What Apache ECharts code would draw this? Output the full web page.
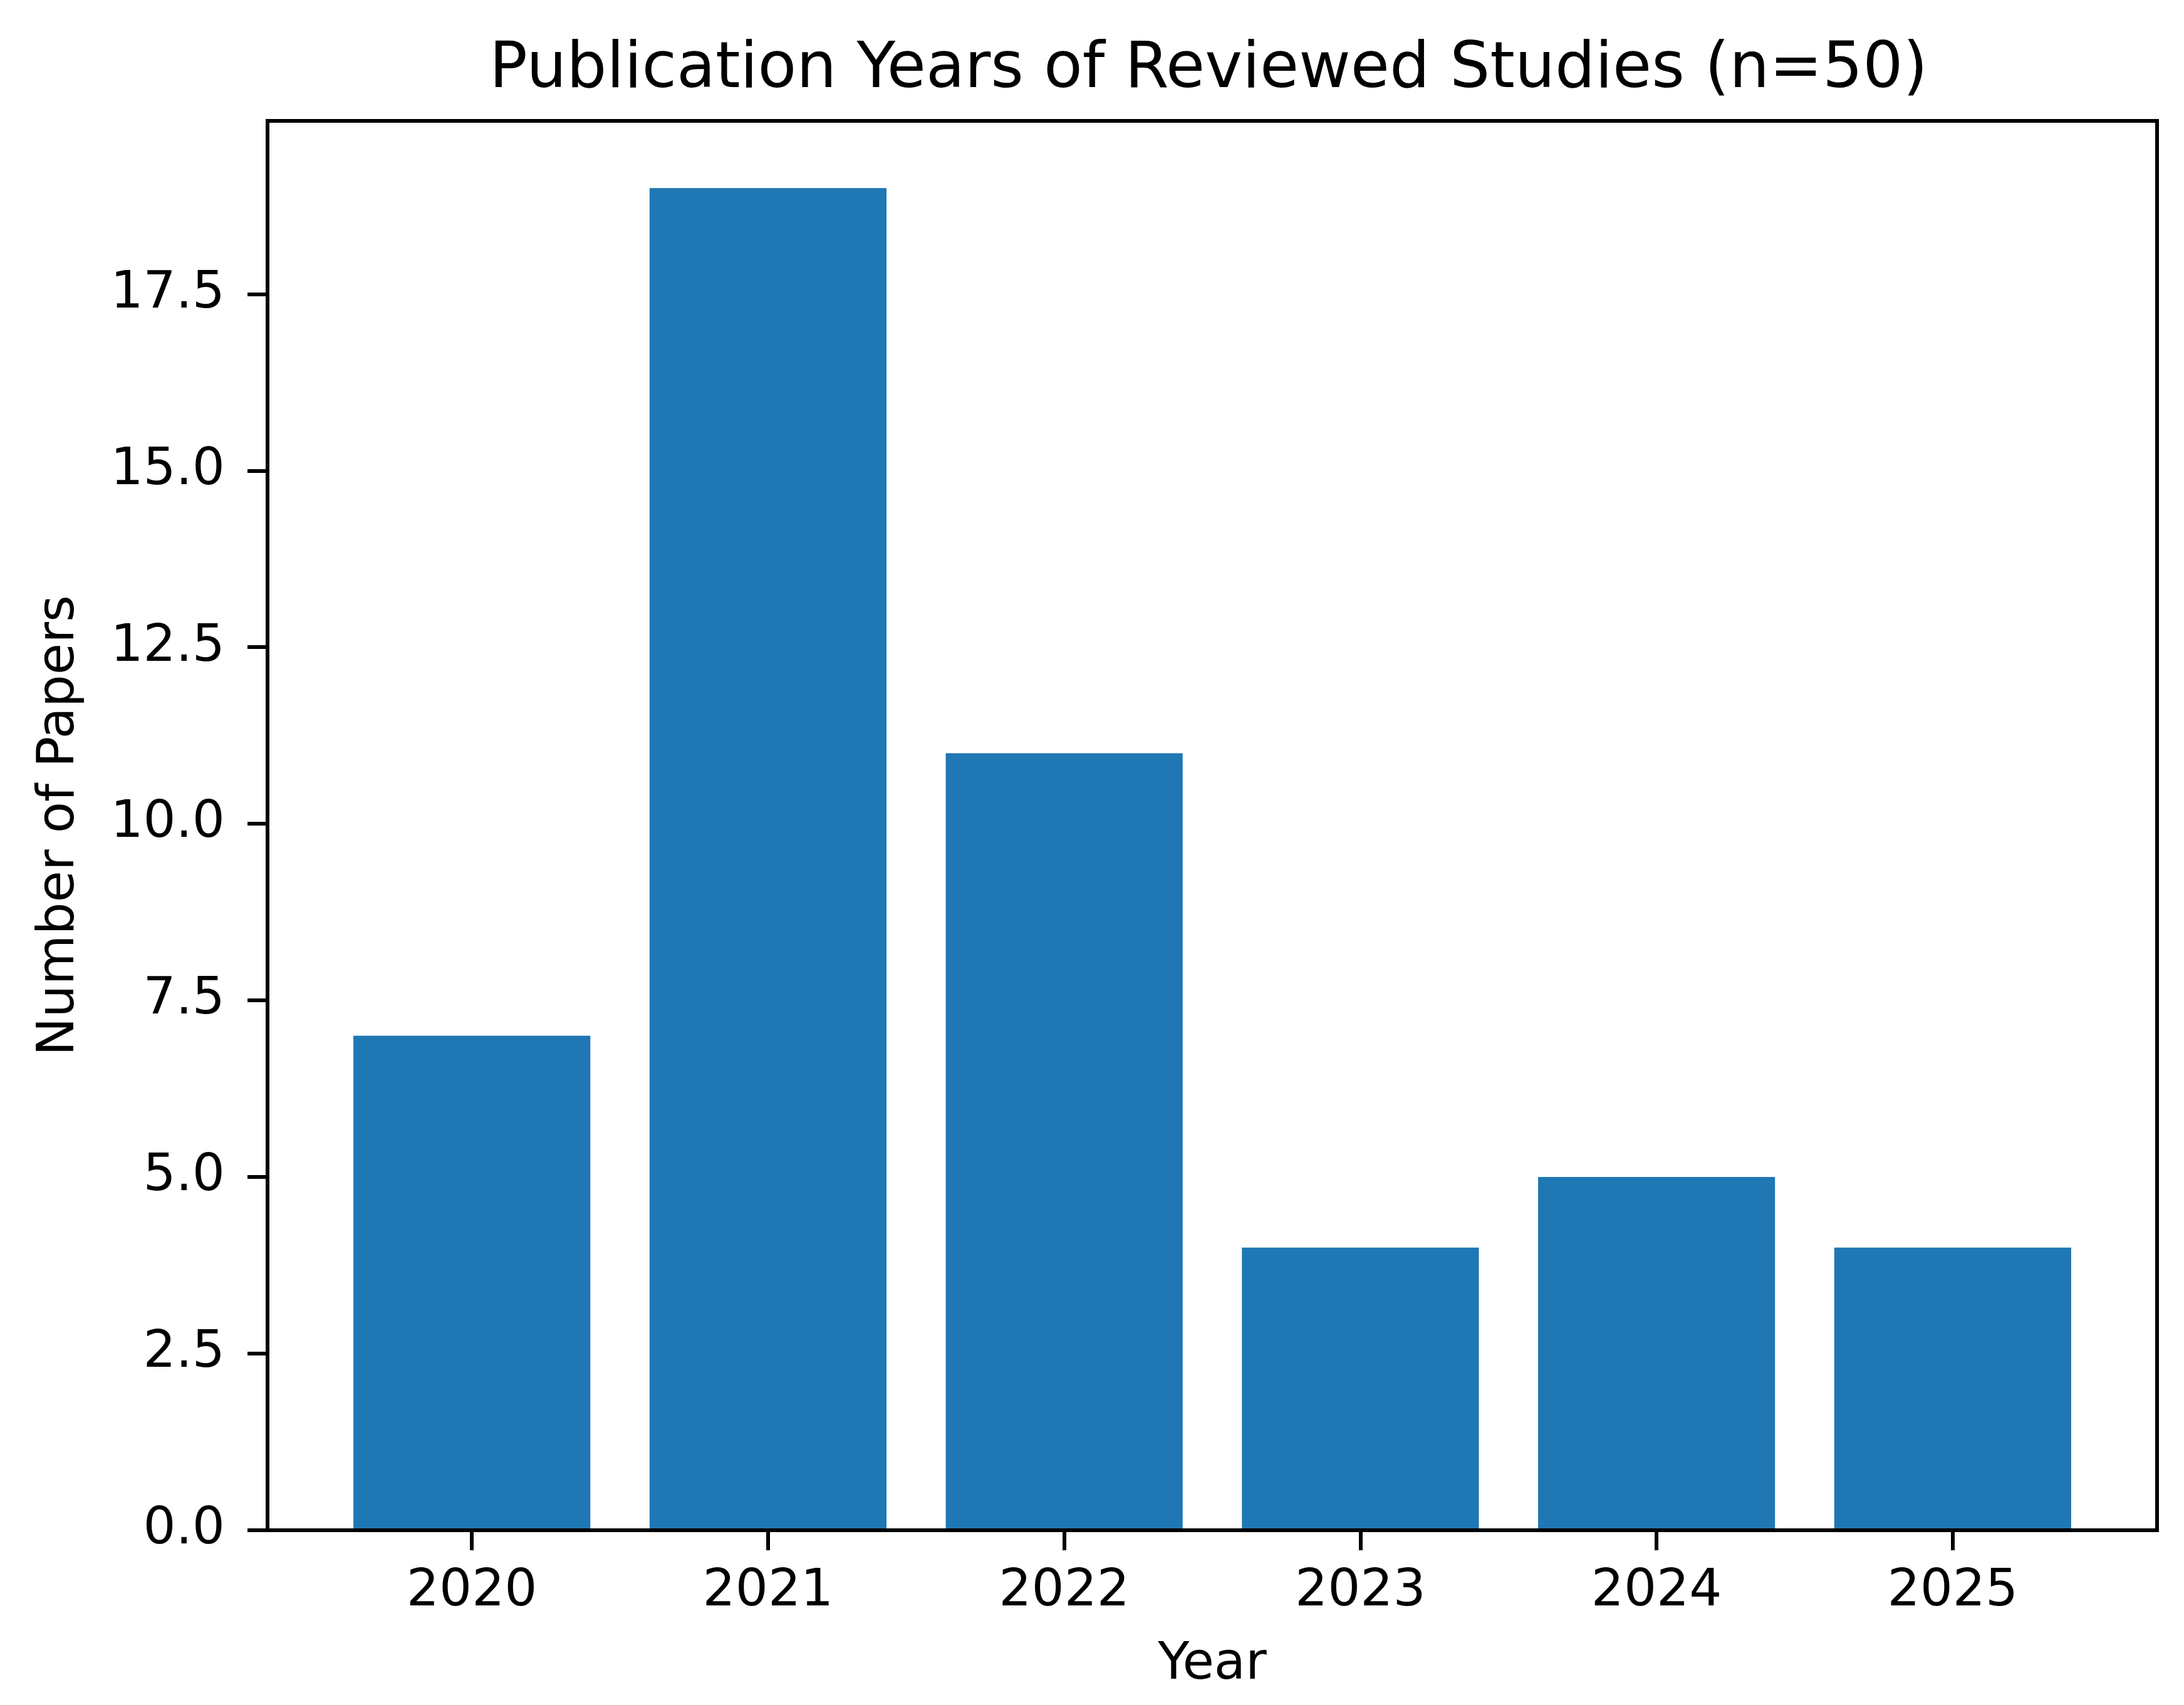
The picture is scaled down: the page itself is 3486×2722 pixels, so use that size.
<!DOCTYPE html>
<html>
<head>
<meta charset="utf-8">
<script src="https://cdn.jsdelivr.net/npm/echarts@6/dist/echarts.min.js"></script>
<style>
html,body{margin:0;padding:0;background:#fff;}
#chart{width:3486px;height:2722px;}
</style>
</head>
<body>
<div id="chart"></div>
<script>
// ---- data ----
const years = ['2020', '2021', '2022', '2023', '2024', '2025'];
const papers = [7, 19, 11, 4, 5, 4];
const yTicks = [0, 2.5, 5, 7.5, 10, 12.5, 15, 17.5];
const xTickPositions = [0, 1, 2, 3, 4, 5];
const titleText = 'Publication Years of Reviewed Studies (n=50)';
const xName = 'Year';
const yName = 'Number of Papers';

const FONT = 'DejaVu Sans';
const chart = echarts.init(document.getElementById('chart'), null, {renderer: 'canvas'});

const seriesData = papers.map((v, i) => [i, v]);

chart.setOption({
  backgroundColor: '#ffffff',
  animation: false,
  title: {
    text: titleText,
    left: 1924,
    top: 57,
    textAlign: 'center',
    textStyle: {fontFamily: FONT, fontSize: 101, fontWeight: 'normal', color: '#000'}
  },
  grid: {
    left: 427, right: 43, top: 193, bottom: 279,
    show: true, borderColor: '#000', borderWidth: 6, backgroundColor: 'transparent'
  },
  xAxis: {
    type: 'value',
    min: -0.69,
    max: 5.69,
    z: 10,
    name: xName,
    nameLocation: 'middle',
    nameGap: 175,
    nameTextStyle: {fontFamily: FONT, fontSize: 82, color: '#000'},
    axisLine: {show: true, onZero: false, lineStyle: {color: '#000', width: 6}},
    axisTick: {show: true, length: 32, lineStyle: {color: '#000', width: 6}, customValues: xTickPositions},
    axisLabel: {
      show: true, margin: 58, fontFamily: FONT, fontSize: 82, color: '#000',
      customValues: xTickPositions,
      formatter: v => years[Math.round(v)]
    },
    splitLine: {show: false}
  },
  yAxis: {
    type: 'value',
    min: 0,
    max: 19.95,
    z: 10,
    name: yName,
    nameLocation: 'middle',
    nameRotate: 90,
    nameGap: 290,
    nameTextStyle: {fontFamily: FONT, fontSize: 82, color: '#000'},
    axisLine: {show: true, onZero: false, lineStyle: {color: '#000', width: 6}},
    axisTick: {show: true, length: 32, lineStyle: {color: '#000', width: 6}, customValues: yTicks},
    axisLabel: {
      show: true, margin: 68, fontFamily: FONT, fontSize: 82, color: '#000',
      customValues: yTicks,
      formatter: v => v.toFixed(1)
    },
    splitLine: {show: false}
  },
  series: [{
    type: 'bar',
    data: seriesData,
    barWidth: '80%',
    itemStyle: {color: '#1f77b4'}
  }]
});
</script>
</body>
</html>
